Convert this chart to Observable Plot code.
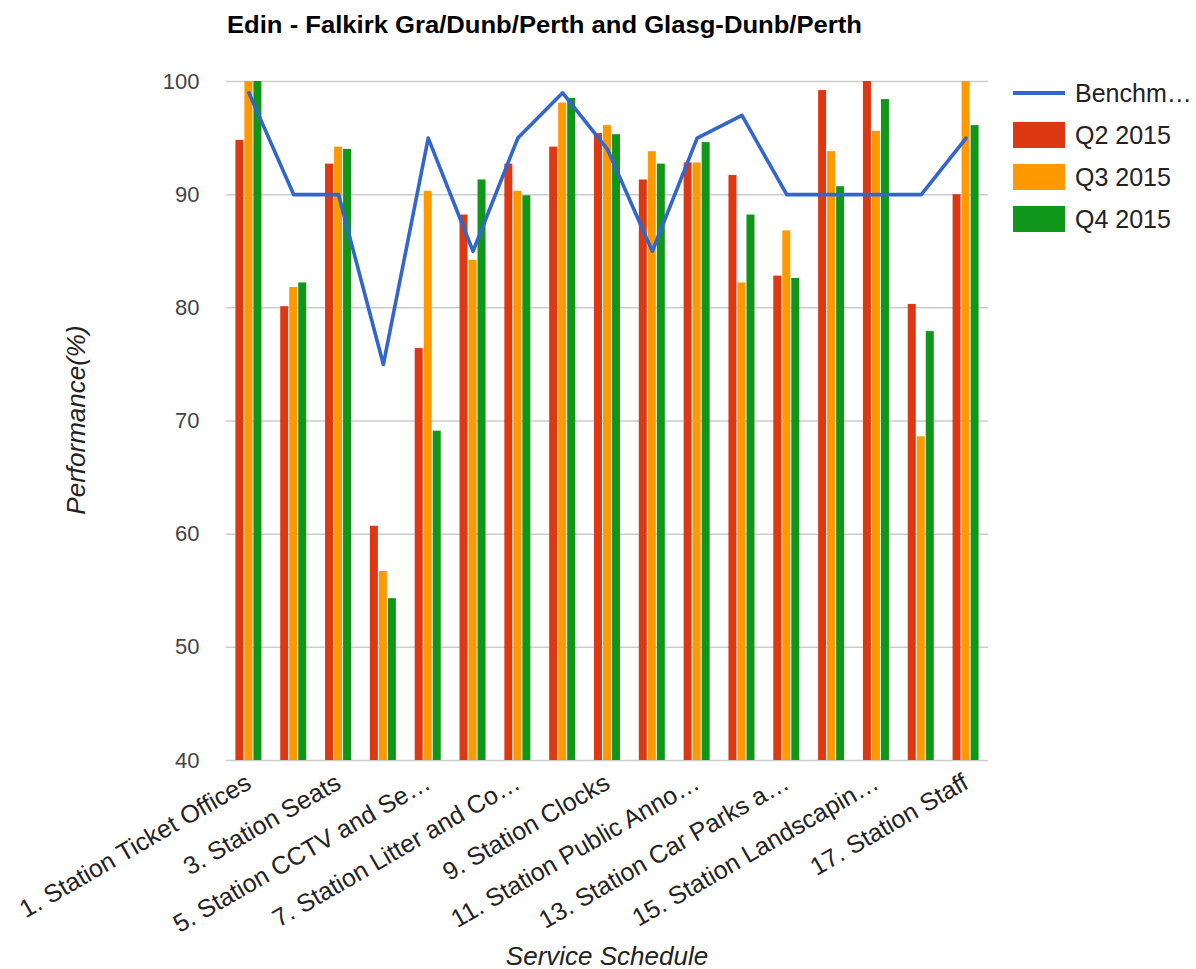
<!DOCTYPE html>
<html>
<head>
<meta charset="utf-8">
<script src="https://cdn.jsdelivr.net/npm/d3@7"></script>
<script src="https://cdn.jsdelivr.net/npm/@observablehq/plot@0.6"></script>
<style>
  body { margin: 0; background: #fff; font-family: "Liberation Sans", Arial, sans-serif; }
  #wrap { position: relative; width: 1196px; height: 969px; overflow: hidden; }
  #chart { position: absolute; left: 0; top: 0; }
  #title { position: absolute; left: 227px; top: 12px; font-weight: bold; font-size: 23px; color: #000; white-space: nowrap; transform-origin: 0 50%; }
  .axis-title { position: absolute; font-style: italic; font-size: 26px; color: #222; white-space: nowrap; }
  #ytitle { left: 76px; top: 420px; transform: translate(-50%, -50%) rotate(-90deg); }
  #xtitle { left: 607px; top: 956px; transform: translate(-50%, -50%); }
  #legend { position: absolute; left: 1013px; top: 0; }
  .item { position: absolute; left: 0; height: 30px; display: flex; align-items: center; white-space: nowrap; font-size: 25px; color: #222; }
  .swatch { width: 52px; height: 26px; margin-right: 10px; }
  .lineswatch { width: 52px; height: 4px; margin-right: 10px; }
</style>
</head>
<body>
<div id="wrap">
  <div id="chart"></div>
  <div id="title"></div>
  <div id="ytitle" class="axis-title"></div>
  <div id="xtitle" class="axis-title"></div>
  <div id="legend"></div>
</div>
<script>
// ---- data ----
const titleText = "Edin - Falkirk Gra/Dunb/Perth and Glasg-Dunb/Perth";
const yTitle = "Performance(%)";
const xTitle = "Service Schedule";

// category labels as displayed (even-numbered categories have no visible label)
const categories = [
  "1. Station Ticket Offices", "2.", "3. Station Seats", "4.",
  "5. Station CCTV and Se…", "6.", "7. Station Litter and Co…", "8.",
  "9. Station Clocks", "10.", "11. Station Public Anno…", "12.",
  "13. Station Car Parks a…", "14.", "15. Station Landscapin…", "16.",
  "17. Station Staff"
];
const labelledCategories = categories.filter((d, i) => i % 2 === 0);

const q2 = [94.8, 80.1, 92.7, 60.7, 76.4, 88.2, 92.7, 94.2, 95.4, 91.3, 92.8, 91.7, 82.8, 99.2, 100, 80.3, 90.0];
const q3 = [100, 81.8, 94.2, 56.7, 90.3, 84.2, 90.3, 98.1, 96.1, 93.8, 92.8, 82.2, 86.8, 93.8, 95.6, 68.6, 100];
const q4 = [100, 82.2, 94.0, 54.3, 69.1, 91.3, 89.9, 98.5, 95.3, 92.7, 94.6, 88.2, 82.6, 90.7, 98.4, 77.9, 96.1];
const benchmark = [99, 90, 90, 75, 95, 85, 95, 99, 94, 85, 95, 97, 90, 90, 90, 90, 95];

const seriesNames = ["Q2 2015", "Q3 2015", "Q4 2015"];
const benchmarkLabel = "Benchm…";
const seriesColors = ["#dc3912", "#ff9900", "#109618"];
const benchmarkColor = "#3366cc";
const yTicks = [40, 50, 60, 70, 80, 90, 100];

// ---- build tables ----
const seriesValues = [q2, q3, q4];
const benchRows = categories.map((c, i) => ({category: c, value: benchmark[i]}));

// ---- layout ----
const W = 1196, H = 969;
const mLeft = 226, mRight = 208, mTop = 81, mBottom = 209;
const band = (W - mLeft - mRight) / categories.length;
const barW = 8, gap = 1;

const barMarks = seriesValues.map((vals, s) => {
  const rows = categories.map((c, i) => ({category: c, value: vals[i], series: seriesNames[s]}));
  const offset = (s - 1) * (barW + gap); // -9, 0, 9
  const left = band / 2 + offset - barW / 2;
  return Plot.barY(rows, {
    x: "category", y: "value", fill: seriesColors[s],
    insetLeft: left, insetRight: band - left - barW, clip: true
  });
});

const chart = Plot.plot({
  width: W, height: H,
  marginLeft: mLeft, marginRight: mRight, marginTop: mTop, marginBottom: mBottom,
  style: {fontFamily: '"Liberation Sans", Arial, sans-serif', background: "#fff"},
  x: {domain: categories, padding: 0, round: false},
  y: {domain: [40, 100]},
  marks: [
    Plot.gridY(yTicks, {stroke: "#cccccc", strokeOpacity: 1, strokeWidth: 1.5}),
    Plot.axisY({ticks: yTicks, tickSize: 0, tickPadding: 27, fontSize: 22, fill: "#444", label: null}),
    Plot.axisX({ticks: labelledCategories, tickRotate: -30, tickSize: 0, tickPadding: 20, fontSize: 25, fill: "#222", label: null}),
    ...barMarks,
    Plot.lineY(benchRows, {x: "category", y: "value", stroke: benchmarkColor, strokeWidth: 3.6})
  ]
});
document.getElementById("chart").appendChild(chart);

// ---- title, axis titles ----
const titleEl = document.getElementById("title");
titleEl.textContent = titleText;
const tw = titleEl.getBoundingClientRect().width;
titleEl.style.transform = `scaleX(${635 / tw})`;
document.getElementById("ytitle").textContent = yTitle;
document.getElementById("xtitle").textContent = xTitle;

// ---- legend ----
const legend = document.getElementById("legend");
const centers = [93, 135, 177, 219];
const entries = [{label: benchmarkLabel, color: benchmarkColor, line: true}]
  .concat(seriesNames.map((n, i) => ({label: n, color: seriesColors[i], line: false})));
entries.forEach((e, i) => {
  const item = document.createElement("div");
  item.className = "item";
  item.style.top = (centers[i] - 15) + "px";
  const sw = document.createElement("div");
  sw.className = e.line ? "lineswatch" : "swatch";
  sw.style.background = e.color;
  const tx = document.createElement("span");
  tx.textContent = e.label;
  item.appendChild(sw);
  item.appendChild(tx);
  legend.appendChild(item);
});
</script>
</body>
</html>
